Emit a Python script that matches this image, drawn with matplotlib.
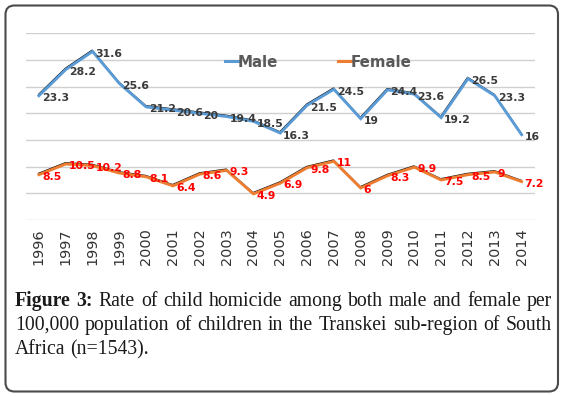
import matplotlib
matplotlib.use("Agg")
import matplotlib.pyplot as plt
from matplotlib.patches import FancyBboxPatch
from matplotlib.transforms import IdentityTransform, offset_copy

years = ["1996", "1997", "1998", "1999", "2000", "2001", "2002", "2003", "2004",
         "2005", "2006", "2007", "2008", "2009", "2010", "2011", "2012", "2013", "2014"]
male = [23.3, 28.2, 31.6, 25.6, 21.2, 20.6, 20, 19.4, 18.5, 16.3, 21.5, 24.5, 19,
        24.4, 23.6, 19.2, 26.5, 23.3, 16]
female = [8.5, 10.5, 10.2, 8.8, 8.1, 6.4, 8.6, 9.3, 4.9, 6.9, 9.8, 11, 6, 8.3, 9.9,
          7.5, 8.5, 9, 7.2]
series_names = ["Male", "Female"]
caption_bold = "Figure 3:"
caption_lines = [
    "Rate of child homicide among both male and female per",
    "100,000 population of children in the Transkei sub-region of South",
    "Africa (n=1543).",
]

W, H = 565, 396
fig = plt.figure(figsize=(W / 100, H / 100), dpi=100)

# outer rounded frame (pixel coordinates)
frame = FancyBboxPatch((5.5, H - 391.5), 552.5, 386, boxstyle="round,pad=0,rounding_size=9",
                       transform=IdentityTransform(), facecolor="none",
                       edgecolor="#4a4a4a", linewidth=1.5, zorder=-1)
fig.patches.append(frame)

ax = fig.add_axes([25.5 / W, 1 - 220 / H, (535 - 25.5) / W, (220 - 33.3) / H])
ax.set_facecolor("none")
x = list(range(len(years)))
ax.set_xlim(-0.5, len(years) - 0.5)
ax.set_ylim(0, 35)
ax.set_yticks(range(0, 36, 5))
ax.yaxis.grid(True, color="#d0d0d0", linewidth=1.0)
ax.set_axisbelow(True)
ax.tick_params(axis="y", left=False, labelleft=False)
ax.tick_params(axis="x", length=0, pad=6, labelsize=10.4, labelcolor="#333333")
ax.set_xticks(x)
ax.set_xticklabels(years, rotation=90)
for s in ax.spines.values():
    s.set_visible(False)

shadow_tr = offset_copy(ax.transData, fig=fig, x=-0.4, y=1.3, units="dots")
cols = ["#5b9bd5", "#ed7d31"]
for vals, c, name in zip([male, female], cols, series_names):
    ax.plot(x, vals, color="#111111", lw=0.9, transform=shadow_tr, zorder=2,
            solid_joinstyle="miter")
    ax.plot(x, vals, color=c, lw=2.1, zorder=3, label=name, solid_joinstyle="miter")

for xi, v in zip(x, male):
    ax.annotate(f"{v:g}", (xi, v), xytext=(2.2, -1.8), textcoords="offset points",
                ha="left", va="center", fontsize=7.8, fontweight="bold",
                color="#3a3a3a", zorder=4)
for xi, v in zip(x, female):
    ax.annotate(f"{v:g}", (xi, v), xytext=(2.2, -1.5), textcoords="offset points",
                ha="left", va="center", fontsize=7.8, fontweight="bold",
                color="#ff0000", zorder=4)

leg = ax.legend(loc="center", bbox_to_anchor=(0.575, 0.846), ncol=2, frameon=False,
                handlelength=0.85, handletextpad=0.0, columnspacing=4.0,
                prop={"size": 10.8, "weight": "bold"}, borderpad=0)
for t in leg.get_texts():
    t.set_color("#595959")
for h in leg.get_lines():
    h.set_linewidth(2.2)

# justified caption
fig.canvas.draw()
renderer = fig.canvas.get_renderer()
left_px, right_px = 15, 552
baselines = [306, 330, 354]
cap_font = dict(family="Liberation Serif", size=14.2, color="#1a1a1a")


def word_width(w, bold=False):
    t = fig.text(0, 0, w, fontweight="bold" if bold else "normal", **cap_font)
    wd = t.get_window_extent(renderer).width
    t.remove()
    return wd


lines = []
lines.append([(w, True) for w in caption_bold.split()] + [(w, False) for w in caption_lines[0].split()])
lines.append([(w, False) for w in caption_lines[1].split()])
lines.append([(w, False) for w in caption_lines[2].split()])
space_w = word_width("a b") - word_width("ab")
for i, (words, base) in enumerate(zip(lines, baselines)):
    widths = [word_width(w, b) for w, b in words]
    if i < len(lines) - 1:
        gap = (right_px - left_px - sum(widths)) / (len(words) - 1)
    else:
        gap = space_w
    xp = left_px
    for (w, b), wd in zip(words, widths):
        fig.text(xp / W, 1 - base / H, w, ha="left", va="baseline",
                 fontweight="bold" if b else "normal", **cap_font)
        xp += wd + gap

fig.savefig("out.png", dpi=100)
